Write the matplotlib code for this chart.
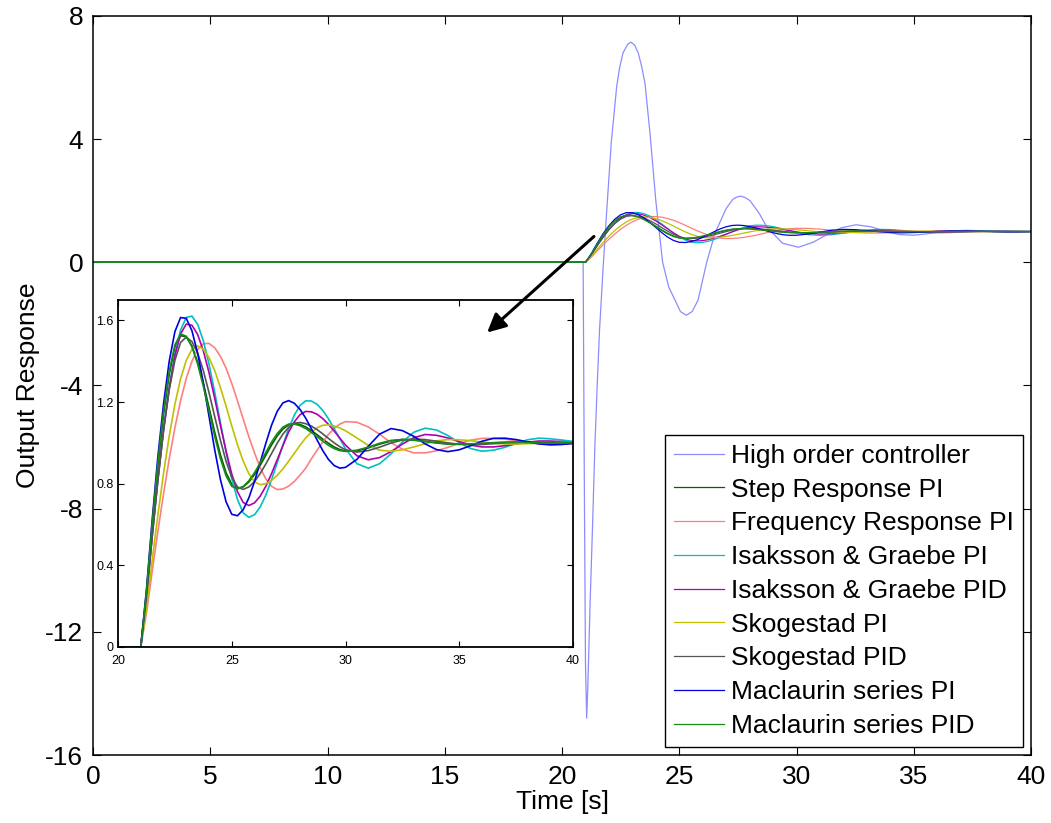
import matplotlib
matplotlib.use("Agg")
import matplotlib.pyplot as plt
from matplotlib.patches import FancyArrowPatch
from matplotlib.ticker import FuncFormatter

plt.rcParams["font.family"] = ["Liberation Sans", "DejaVu Sans"]
plt.rcParams["axes.unicode_minus"] = False

# common time grid of the controller responses [s]
time = [0.0, 21.0, 21.25, 21.5, 21.75, 22.0, 22.25, 22.5, 22.75, 23.0,
        23.25, 23.5, 23.75, 24.0, 24.25, 24.5, 24.75, 25.0, 25.25, 25.5,
        25.75, 26.0, 26.25, 26.5, 26.75, 27.0, 27.25, 27.5, 27.75, 28.0,
        28.25, 28.5, 28.75, 29.0, 29.25, 29.5, 29.75, 30.0,
        30.5, 31.0, 31.5, 32.0, 32.5, 33.0, 33.5, 34.0, 34.5, 35.0,
        35.5, 36.0, 36.5, 37.0, 37.5, 38.0, 38.5, 39.0, 39.5, 40.0]

# high order controller (own time samples, fast initial undershoot)
time_high = [0.0, 20.9, 20.95, 21.0, 21.05, 21.1, 21.2, 21.3, 21.4, 21.5,
             21.6, 21.75, 21.9, 22.1, 22.33, 22.45, 22.6, 22.8, 22.94, 23.1,
             23.25, 23.4, 23.54, 23.75, 24.0, 24.29, 24.55, 24.82, 25.05, 25.3,
             25.55, 25.8, 26.17, 26.52, 27.0, 27.29, 27.45, 27.63, 27.82, 28.02,
             28.4, 28.73, 29.4, 30.08, 30.7, 31.3, 31.9, 32.54, 33.2, 33.8,
             34.4, 34.97, 35.5, 36.1, 36.7, 37.26, 38.0, 38.7, 39.3, 40.0]
high_order = [0, 0, -7.0, -13.0, -14.8, -13.8, -11.0, -8.6, -6.0, -4.0,
              -2.2, -0.2, 1.6, 3.9, 5.7, 6.3, 6.8, 7.08, 7.15, 7.05,
              6.8, 6.35, 5.8, 4.2, 2.0, 0.0, -0.8, -1.23, -1.6, -1.72,
              -1.6, -1.23, 0.0, 0.94, 1.75, 2.05, 2.12, 2.15, 2.1, 2.0,
              1.6, 1.15, 0.62, 0.49, 0.65, 0.9, 1.12, 1.22, 1.15, 1.0,
              0.9, 0.88, 0.92, 0.98, 1.02, 1.04, 1.02, 0.98, 0.97, 1.0]

step_pi = [0, 0, 0.26, 0.585, 0.885, 1.14, 1.335, 1.468, 1.525, 1.520,
           1.474, 1.395, 1.292, 1.173, 1.052, 0.942, 0.853, 0.797, 0.777, 0.784,
           0.808, 0.845, 0.890, 0.940, 0.990, 1.034, 1.068, 1.088, 1.096, 1.090,
           1.078, 1.060, 1.040, 1.018, 0.998, 0.980, 0.967, 0.960,
           0.961, 0.975, 0.994, 1.009, 1.017, 1.014, 1.008, 1.001, 0.995, 0.993,
           0.994, 0.997, 1.000, 1.002, 1.003, 1.002, 1.000, 0.999, 0.999, 1.000]

freq_pi = [0, 0, 0.165, 0.369, 0.565, 0.750, 0.921, 1.074, 1.207, 1.316,
           1.400, 1.457, 1.486, 1.487, 1.466, 1.424, 1.366, 1.291, 1.206, 1.118,
           1.030, 0.951, 0.878, 0.823, 0.787, 0.771, 0.774, 0.788, 0.811, 0.842,
           0.876, 0.922, 0.964, 1.004, 1.041, 1.071, 1.092, 1.104,
           1.101, 1.078, 1.042, 1.001, 0.969, 0.951, 0.951, 0.961, 0.978, 0.997,
           1.013, 1.022, 1.022, 1.018, 1.011, 1.003, 0.996, 0.993, 0.993, 0.996]

ig_pi = [0, 0, 0.242, 0.537, 0.813, 1.061, 1.271, 1.437, 1.553, 1.615,
         1.621, 1.581, 1.500, 1.386, 1.248, 1.100, 0.955, 0.825, 0.723, 0.657,
         0.635, 0.648, 0.686, 0.745, 0.820, 0.904, 0.990, 1.070, 1.136, 1.183,
         1.206, 1.205, 1.189, 1.159, 1.118, 1.070, 1.020, 0.971,
         0.898, 0.876, 0.898, 0.946, 1.004, 1.052, 1.072, 1.063, 1.036, 1.001,
         0.972, 0.959, 0.964, 0.978, 0.998, 1.015, 1.023, 1.020, 1.014, 1.007]

ig_pid = [0, 0, 0.244, 0.541, 0.818, 1.064, 1.268, 1.427, 1.534, 1.582,
          1.576, 1.531, 1.451, 1.344, 1.218, 1.086, 0.959, 0.847, 0.761, 0.708,
          0.693, 0.706, 0.739, 0.788, 0.850, 0.918, 0.987, 1.053, 1.103, 1.138,
          1.154, 1.152, 1.140, 1.119, 1.091, 1.058, 1.023, 0.989,
          0.937, 0.917, 0.928, 0.957, 0.994, 1.025, 1.041, 1.037, 1.024, 1.006,
          0.989, 0.980, 0.980, 0.986, 0.995, 1.003, 1.009, 1.009, 1.006, 1.003]

skog_pi = [0, 0, 0.190, 0.423, 0.645, 0.850, 1.033, 1.189, 1.314, 1.404,
           1.459, 1.475, 1.459, 1.418, 1.354, 1.271, 1.180, 1.083, 0.991, 0.911,
           0.849, 0.809, 0.795, 0.800, 0.816, 0.841, 0.873, 0.910, 0.949, 0.988,
           1.024, 1.052, 1.074, 1.086, 1.088, 1.083, 1.073, 1.059,
           1.024, 0.988, 0.964, 0.959, 0.966, 0.980, 0.996, 1.010, 1.016, 1.015,
           1.011, 1.004, 0.998, 0.995, 0.994, 0.996, 0.998, 1.000, 1.002, 1.002]

skog_pid = [0, 0, 0.246, 0.543, 0.819, 1.060, 1.259, 1.404, 1.492, 1.518,
            1.496, 1.440, 1.354, 1.246, 1.129, 1.013, 0.909, 0.832, 0.784, 0.772,
            0.784, 0.810, 0.850, 0.897, 0.948, 0.999, 1.043, 1.076, 1.096, 1.100,
            1.094, 1.082, 1.065, 1.044, 1.022, 1.000, 0.981, 0.966,
            0.955, 0.962, 0.979, 0.999, 1.014, 1.019, 1.016, 1.008, 1.000, 0.993,
            0.991, 0.992, 0.996, 1.000, 1.003, 1.004, 1.003, 1.001, 0.999, 0.999]

mac_pi = [0, 0, 0.28, 0.62, 0.93, 1.19, 1.40, 1.545, 1.614, 1.61,
          1.549, 1.439, 1.294, 1.13, 0.966, 0.821, 0.711, 0.650, 0.643, 0.672,
          0.730, 0.811, 0.904, 0.999, 1.087, 1.155, 1.196, 1.207, 1.194, 1.164,
          1.121, 1.069, 1.014, 0.962, 0.919, 0.889, 0.876, 0.880,
          0.919, 0.983, 1.043, 1.070, 1.060, 1.032, 0.995, 0.967, 0.957, 0.966,
          0.986, 1.008, 1.022, 1.023, 1.016, 1.005, 0.995, 0.990, 0.992, 0.997]

mac_pid = [0, 0, 0.274, 0.603, 0.903, 1.156, 1.351, 1.480, 1.534, 1.522,
           1.471, 1.386, 1.277, 1.155, 1.032, 0.923, 0.838, 0.787, 0.774, 0.786,
           0.814, 0.854, 0.902, 0.954, 1.004, 1.046, 1.077, 1.092, 1.092, 1.084,
           1.070, 1.051, 1.030, 1.008, 0.988, 0.972, 0.962, 0.958,
           0.964, 0.979, 0.998, 1.012, 1.016, 1.013, 1.006, 0.999, 0.994, 0.993,
           0.995, 0.998, 1.001, 1.003, 1.003, 1.001, 1.000, 0.999, 0.999, 1.000]

labels = ["High order controller", "Step Response PI", "Frequency Response PI",
          "Isaksson & Graebe PI", "Isaksson & Graebe PID", "Skogestad PI",
          "Skogestad PID", "Maclaurin series PI", "Maclaurin series PID"]
colors = ["#8c8cff", "#006400", "#ff7f7f", "#00c0c0", "#b000b0",
          "#c0c000", "#555555", "#0000e0", "#1a8a1a"]
controllers = [step_pi, freq_pi, ig_pi, ig_pid, skog_pi, skog_pid, mac_pi, mac_pid]

fig = plt.figure(figsize=(10.51, 8.23), dpi=100)

# main axes
ax = fig.add_axes([0.0885, 0.0826, 0.8925, 0.898])
ax.plot(time_high, high_order, color=colors[0], lw=0.9, label=labels[0])
for y, lab, col in zip(controllers, labels[1:], colors[1:]):
    ax.plot(time, y, color=col, lw=0.9, label=lab)

ax.set_xlim(0, 40)
ax.set_ylim(-16, 8)
ax.set_xticks(range(0, 41, 5))
ax.set_yticks(range(-16, 9, 4))
ax.tick_params(direction="in", top=True, right=True, labelsize=19,
               length=6, width=0.8, pad=7)
for s in ax.spines.values():
    s.set_linewidth(1.1)
ax.set_xlabel("Time [s]", fontsize=19, labelpad=1)
ax.set_ylabel("Output Response", fontsize=19, labelpad=4)

leg = ax.legend(loc="lower right", fontsize=19, fancybox=False, framealpha=1,
                edgecolor="black", handlelength=1.9, handletextpad=0.25,
                labelspacing=0.37, borderpad=0.35, borderaxespad=0.3)
leg.get_frame().set_linewidth(1.0)

# zoomed inset
axin = fig.add_axes([0.1123, 0.2139, 0.4329, 0.4216])
for y, col in zip(controllers, colors[1:]):
    axin.plot(time, y, color=col, lw=1.2)
axin.set_xlim(20, 40)
axin.set_ylim(0, 1.7)
axin.set_xticks([20, 25, 30, 35, 40])
axin.set_yticks([0, 0.4, 0.8, 1.2, 1.6])
axin.yaxis.set_major_formatter(FuncFormatter(lambda v, _: f"{v:g}"))
axin.tick_params(direction="in", top=True, right=True, labelsize=9,
                 length=4, width=0.8, pad=3)
axin.tick_params(axis="x", pad=6)
for s in axin.spines.values():
    s.set_linewidth(1.3)

# arrow pointing from the main curves to the inset
arrow = FancyArrowPatch((21.45, 0.9), (16.72, -2.34), transform=ax.transData,
                        arrowstyle="-|>", mutation_scale=28, lw=2.2,
                        color="black")
fig.add_artist(arrow)

fig.savefig("out.png", dpi=100)
